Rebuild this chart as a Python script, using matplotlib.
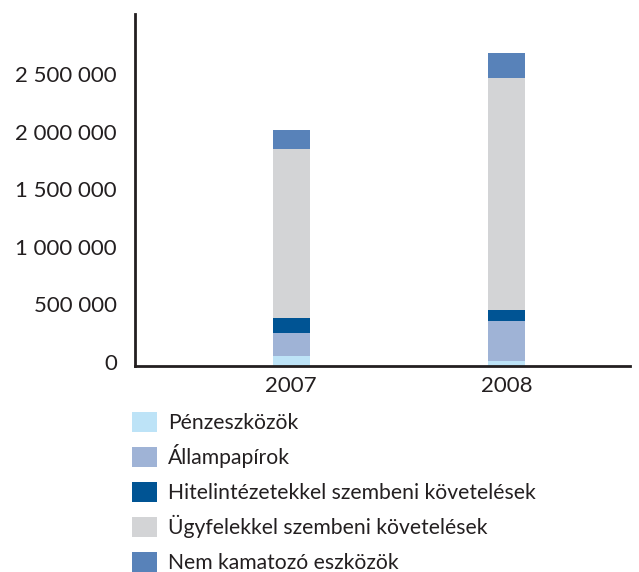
import numpy as np
import matplotlib.pyplot as plt
import matplotlib.transforms as mtransforms
from matplotlib.patches import Rectangle
from matplotlib.ticker import FuncFormatter

plt.rcParams['font.family'] = ['Lato', 'DejaVu Sans']

years = ['2007', '2008']
categories = ['Pénzeszközök', 'Állampapírok', 'Hitelintézetekkel szembeni követelések',
              'Ügyfelekkel szembeni követelések', 'Nem kamatozó eszközök']
penzeszkozok = [87000, 40000]
allampapirok = [200000, 350000]
hitelintezetek = [130000, 96000]
ugyfelek = [1473000, 2017000]
nem_kamatozo = [162000, 218000]
colors = ['#BDE3F7', '#9FB3D6', '#005494', '#D3D4D6', '#5882B9']

series = [penzeszkozok, allampapirok, hitelintezetek, ugyfelek, nem_kamatozo]
txt_col = '#231f20'

W, H = 639, 572
fig = plt.figure(figsize=(W / 100, H / 100), dpi=100)
ax = fig.add_axes([0.2113, 0.360, 0.775, 0.6155])

x = np.arange(len(years))
bottom = np.zeros(len(years))
for vals, col, lab in zip(series, colors, categories):
    ax.bar(x, vals, width=0.172, bottom=bottom, color=col, label=lab, linewidth=0)
    bottom += np.array(vals)

ax.set_xlim(-0.724, 1.573)
ax.set_ylim(0, 3060000)
ax.set_yticks(np.arange(0, 2500001, 500000))
ax.yaxis.set_major_formatter(FuncFormatter(lambda v, p: f"{int(v):,}".replace(",", " ")))
ax.set_xticks(x)
ax.set_xticklabels(years)
ax.tick_params(length=0, labelsize=16, colors=txt_col)
ax.tick_params(axis='y', pad=13)
ax.tick_params(axis='x', pad=7)
for s in ['top', 'right']:
    ax.spines[s].set_visible(False)
for s in ['left', 'bottom']:
    ax.spines[s].set_linewidth(2)
    ax.spines[s].set_color(txt_col)

# nudge y labels up a little, like the reference
shift = mtransforms.ScaledTranslation(0, 3 / 72, fig.dpi_scale_trans)
for lbl in ax.get_yticklabels():
    lbl.set_transform(lbl.get_transform() + shift)

# legend drawn by hand so the rows sit evenly
for i, (lab, col) in enumerate(zip(categories, colors)):
    yc = 422 + 35 * i  # row centre in pixels from top
    fig.patches.append(Rectangle((132 / W, 1 - (yc + 10) / H), 25 / W, 20 / H,
                                 transform=fig.transFigure, color=col, linewidth=0))
    fig.text(168 / W, 1 - (yc + 7) / H, lab, fontsize=15.2, color=txt_col,
             va='baseline', ha='left')

fig.savefig('out.png', dpi=100)
